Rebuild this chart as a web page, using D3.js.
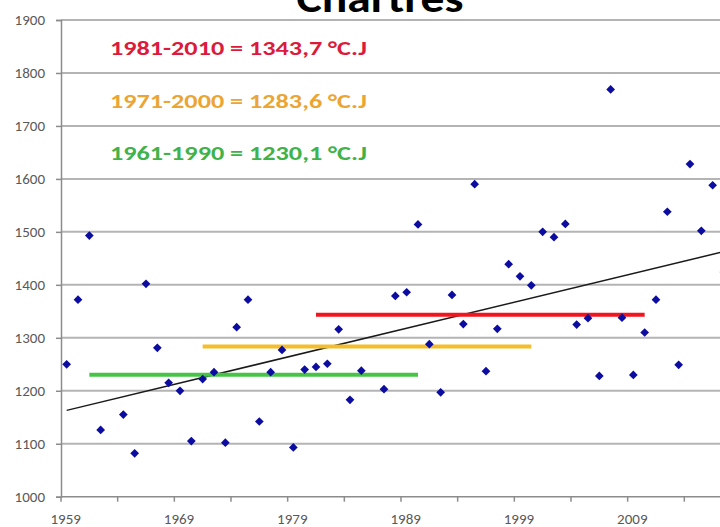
<!DOCTYPE html>
<html>
<head>
<meta charset="utf-8">
<script src="https://cdn.jsdelivr.net/npm/d3@7"></script>
<style>
  body { margin: 0; background: #fff; }
  svg { display: block; font-family: Carlito, Lato, "Open Sans", sans-serif; }
</style>
</head>
<body>
<svg id="chart" width="720" height="527"></svg>
<script>
// Degrés-jours annuels, Chartres
const years = d3.range(1959, 2019);
const values = [
  1250, 1372, 1493, 1126, null, 1155, 1082, 1402, 1281, 1215,
  1200, 1105, 1222, 1235, 1102, 1320, 1372, 1142, 1235, 1277,
  1093, 1240, 1245, 1251, 1316, 1183, 1238, null, 1203, 1379,
  1386, 1514, 1288, 1197, 1381, 1326, 1590, 1237, 1317, 1439,
  1416, 1399, 1500, 1490, 1515, 1325, 1337, 1228, 1769, 1338,
  1230, 1310, 1372, 1538, 1249, 1628, 1502, 1588, 1424, null
];

// moyennes trentenaires
const normalLabels = ["1981-2010 = 1343,7 °C.J", "1971-2000 = 1283,6 °C.J", "1961-1990 = 1230,1 °C.J"];
const normalStart = [1981, 1971, 1961];
const normalEnd = [2010, 2000, 1990];
const normalValues = [1343.7, 1283.6, 1230.1];
const normalColors = ["#f2141e", "#f5bd2a", "#46c446"];
const normalTextColors = ["#dc1a3c", "#eba534", "#3fb34a"];

// tendance linéaire (début / fin)
const trendYears = [1959, 2018];
const trendValues = [1163, 1468];

const yTicks = d3.range(1000, 1901, 100);

const svg = d3.select("#chart");
const plotLeft = 61, plotTop = 20, plotBottom = 496.7;
const step = 11.333;

const x = d3.scaleBand()
    .domain(years)
    .range([plotLeft, plotLeft + years.length * step])
    .padding(0);
const cx = yr => x(yr) + x.bandwidth() / 2;

const y = d3.scaleLinear()
    .domain([1000, 1900])
    .range([plotBottom, plotTop]);

// grid
svg.append("g")
    .selectAll("line")
    .data(yTicks.filter(v => v > 1000))
    .enter()
    .append("line")
    .attr("x1", plotLeft)
    .attr("x2", 720)
    .attr("y1", d => y(d))
    .attr("y2", d => y(d))
    .attr("stroke", "#b4b4b4")
    .attr("stroke-width", 2);

// y axis
const yAxis = svg.append("g")
    .attr("transform", `translate(${plotLeft},0)`)
    .call(d3.axisLeft(y).tickValues(yTicks).tickSize(5).tickPadding(11).tickFormat(d3.format("d")));
yAxis.select(".domain").attr("stroke", "#8c8c8c").attr("stroke-width", 1.5);
yAxis.selectAll(".tick line").attr("stroke", "#8c8c8c").attr("stroke-width", 1.5);
yAxis.selectAll("text")
    .attr("fill", "#595959")
    .attr("font-size", 15)
    .attr("font-family", "Carlito, Lato, sans-serif");

// x axis
svg.append("line")
    .attr("x1", plotLeft)
    .attr("x2", 720)
    .attr("y1", plotBottom)
    .attr("y2", plotBottom)
    .attr("stroke", "#8c8c8c")
    .attr("stroke-width", 1.5);

svg.append("g")
    .selectAll("line")
    .data(years.filter(yr => (yr - 1959) % 5 === 0))
    .enter()
    .append("line")
    .attr("x1", d => x(d))
    .attr("x2", d => x(d))
    .attr("y1", plotBottom)
    .attr("y2", plotBottom + 5)
    .attr("stroke", "#8c8c8c")
    .attr("stroke-width", 1.5);

svg.append("g")
    .selectAll("text")
    .data(years.filter(yr => (yr - 1959) % 10 === 0))
    .enter()
    .append("text")
    .attr("x", d => cx(d) - 1)
    .attr("y", 524)
    .attr("text-anchor", "middle")
    .attr("fill", "#595959")
    .attr("font-size", 15)
    .text(d => d);

// trend
svg.append("line")
    .attr("x1", cx(trendYears[0]))
    .attr("y1", y(trendValues[0]))
    .attr("x2", cx(trendYears[1]))
    .attr("y2", y(trendValues[1]))
    .attr("stroke", "#1a1a1a")
    .attr("stroke-width", 1.5);

// normals
normalValues.forEach((v, i) => {
    svg.append("line")
        .attr("x1", cx(normalStart[i]))
        .attr("x2", cx(normalEnd[i]))
        .attr("y1", y(v))
        .attr("y2", y(v))
        .attr("stroke", normalColors[i])
        .attr("stroke-width", 4);
});

// points
const diamond = d3.symbol().type(d3.symbolSquare).size(38);
svg.append("g")
    .selectAll("path")
    .data(years.map((yr, i) => ({ year: yr, value: values[i] })).filter(d => d.value != null))
    .enter()
    .append("path")
    .attr("d", diamond)
    .attr("transform", d => `translate(${cx(d.year)},${y(d.value)}) rotate(45)`)
    .attr("fill", "#0c0ca0");

// labels of normals
const labelY = [55, 108, 160];
normalLabels.forEach((t, i) => {
    svg.append("text")
        .attr("x", 110)
        .attr("y", labelY[i])
        .attr("font-size", 21)
        .attr("font-weight", "bold")
        .attr("fill", normalTextColors[i])
        .attr("textLength", 257)
        .attr("lengthAdjust", "spacingAndGlyphs")
        .text(t);
});

// title (cut at top, as in the source)
svg.append("text")
    .attr("x", 380)
    .attr("y", 12)
    .attr("text-anchor", "middle")
    .attr("font-size", 40)
    .attr("font-weight", "bold")
    .attr("fill", "#000")
    .attr("textLength", 167)
    .attr("lengthAdjust", "spacingAndGlyphs")
    .text("Chartres");
</script>
</body>
</html>
